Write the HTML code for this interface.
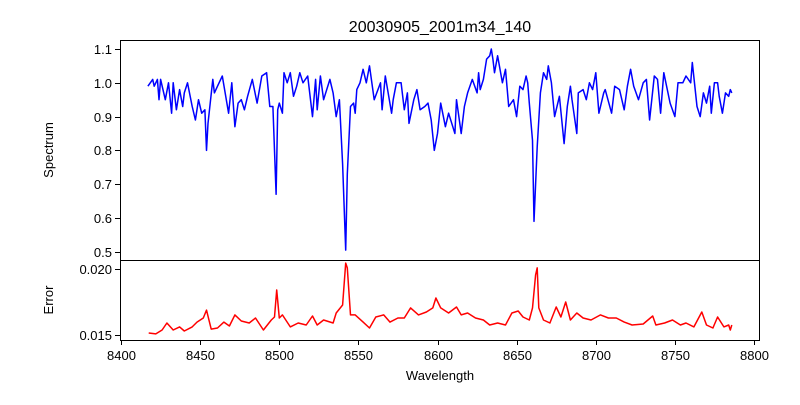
<!DOCTYPE html>
<html><head><meta charset="utf-8"><style>
body{margin:0;background:#fff;font-family:"Liberation Sans","DejaVu Sans",sans-serif}
svg text{font-family:"Liberation Sans","DejaVu Sans",sans-serif;fill:#000}
</style></head><body>
<svg id="chart" width="800" height="400" viewBox="0 0 800 400" xmlns="http://www.w3.org/2000/svg">
<rect width="800" height="400" fill="#fff"/>
<text x="440" y="32" font-size="16" text-anchor="middle">20030905_2001m34_140</text>
<text transform="translate(53,150) rotate(-90)" font-size="13" text-anchor="middle">Spectrum</text>
<text transform="translate(53,300) rotate(-90)" font-size="13" text-anchor="middle">Error</text>
<text x="440" y="380" font-size="13" text-anchor="middle">Wavelength</text>
<g id="marks"></g>
<rect x="120.5" y="40.5" width="639" height="220" fill="none" stroke="#000" stroke-width="1"/>
<rect x="120.5" y="260.5" width="639" height="80" fill="none" stroke="#000" stroke-width="1"/>
<g id="ticks"></g>
</svg>
<script>
const specWave=[8417,8420,8421,8423,8424,8425,8428,8430,8432,8433,8435,8437,8439,8440,8442,8445,8447,8449,8451,8453,8454,8455,8458,8459,8461,8464,8468,8470,8472,8474,8476,8478,8480,8483,8486,8489,8492,8494,8496,8498,8499,8500,8502,8503,8505,8507,8509,8511,8513,8515,8518,8521,8523,8524,8526,8528,8532,8534,8536,8538,8540,8542,8543,8545,8547,8548,8549,8551,8553,8555,8557,8560,8564,8565,8567,8571,8572,8574,8577,8579,8581,8582,8585,8587,8589,8592,8594,8596,8598,8600,8602,8605,8607,8611,8612,8615,8617,8619,8622,8625,8626,8627,8629,8631,8633,8634,8635,8636,8638,8641,8643,8645,8648,8650,8652,8654,8656,8657,8658,8660,8661,8663,8665,8667,8669,8670,8672,8674,8677,8680,8682,8684,8685,8688,8689,8692,8694,8696,8698,8700,8702,8705,8706,8710,8712,8715,8718,8720,8722,8724,8727,8730,8732,8734,8737,8739,8741,8743,8747,8750,8752,8755,8757,8760,8761,8764,8766,8768,8770,8772,8773,8775,8777,8778,8780,8782,8784,8785,8786];
const specFlux=[0.99,1.01,0.99,1.01,0.95,1.01,0.95,1.0,0.91,1.0,0.92,0.98,0.93,0.97,1.0,0.93,0.89,0.95,0.91,0.92,0.80,0.88,1.01,0.97,0.99,1.02,0.91,1.0,0.87,0.94,0.95,0.92,0.96,1.01,0.94,1.02,1.03,0.93,0.93,0.67,0.92,0.94,0.91,1.03,1.0,1.03,0.96,0.99,1.03,1.0,1.02,0.90,1.01,0.92,1.02,0.95,1.01,0.97,0.90,0.95,0.76,0.505,0.73,0.93,0.94,0.91,0.98,1.0,1.04,1.0,1.05,0.95,1.0,0.92,1.02,0.91,0.95,1.0,1.0,0.92,0.97,0.88,0.95,0.98,0.92,0.93,0.94,0.89,0.80,0.85,0.94,0.87,0.91,0.85,0.95,0.85,0.93,0.97,1.01,0.97,1.03,0.98,1.01,1.07,1.08,1.10,1.07,1.03,1.08,1.0,1.04,0.93,0.95,0.90,0.99,0.98,1.02,1.0,0.94,0.83,0.59,0.81,0.97,1.03,1.01,1.05,1.0,0.90,0.96,0.82,0.93,0.99,0.95,0.85,0.97,0.98,0.95,1.0,0.98,1.03,0.91,0.97,0.98,0.91,0.99,0.98,0.92,0.99,1.04,0.99,0.95,1.0,1.01,0.89,1.02,1.01,0.91,1.03,0.94,0.90,1.0,1.0,1.02,1.0,1.06,0.93,0.90,0.97,0.94,0.99,0.91,1.0,1.0,0.96,0.91,0.97,0.96,0.98,0.97];
const errWave=[8417.5,8422,8426,8429,8433,8437,8440,8445,8448,8452,8454,8457,8461,8465,8468.5,8472,8476,8481,8485,8490,8495,8497,8498.4,8500,8502,8507,8512,8517,8521,8524,8528,8534,8536,8540,8542,8543,8545,8548,8553,8557,8561,8566,8570,8575,8579,8583,8588,8593,8597,8599,8602,8607,8612,8615,8619,8624,8629,8633,8638,8643,8647,8651,8654,8658,8660,8662,8663,8664,8667,8671,8675,8678,8681,8684,8688,8692,8697,8703,8708,8713,8718,8723,8730,8736,8738,8743.5,8748.5,8753.5,8757,8762,8767,8770,8774,8777,8781,8784,8785,8786];
const errVal=[0.01515,0.01508,0.01538,0.01591,0.01538,0.01561,0.0153,0.01561,0.01598,0.01629,0.01689,0.01545,0.01553,0.01598,0.01568,0.01652,0.01606,0.01591,0.01629,0.01538,0.01614,0.01636,0.01841,0.01629,0.01652,0.01561,0.01591,0.01576,0.01644,0.01576,0.01614,0.01591,0.01667,0.01727,0.02045,0.02008,0.01652,0.01652,0.01598,0.01553,0.01636,0.01652,0.01598,0.01629,0.01629,0.01705,0.01652,0.01674,0.01705,0.0178,0.01705,0.01667,0.01712,0.01652,0.01667,0.01629,0.01614,0.01576,0.01591,0.01576,0.01667,0.01682,0.01636,0.01614,0.01705,0.01955,0.02008,0.01705,0.01614,0.01591,0.01712,0.01636,0.0175,0.01614,0.01667,0.01629,0.01614,0.01652,0.01629,0.01629,0.01598,0.01576,0.01583,0.01644,0.01576,0.01591,0.01614,0.01576,0.01591,0.01561,0.01674,0.01576,0.01553,0.01636,0.01561,0.01576,0.01538,0.01576];
const xTicks=[8400,8450,8500,8550,8600,8650,8700,8750,8800];
const specTicks=[0.5,0.6,0.7,0.8,0.9,1.0,1.1];
const errTicks=[0.015,0.020];

const NS="http://www.w3.org/2000/svg";
const xS=w=>121+(w-8400)*1.5825;
const yS=v=>49+(1.1-v)*338;
const yE=v=>269+(0.020-v)*13200;
const marks=document.getElementById('marks');
const ticks=document.getElementById('ticks');

function poly(xs,ys,fy,color,name){
  const p=document.createElementNS(NS,'polyline');
  p.setAttribute('points',xs.map((w,i)=>xS(w).toFixed(1)+','+fy(ys[i]).toFixed(1)).join(' '));
  p.setAttribute('fill','none');p.setAttribute('stroke',color);p.setAttribute('stroke-width','1.5');p.setAttribute('stroke-linejoin','round');
  
  
  marks.appendChild(p);
}
poly(specWave,specFlux,yS,'#0000ff','spectrum-line');
poly(errWave,errVal,yE,'#ff0000','error-line');

function line(x1,y1,x2,y2,name){
  const l=document.createElementNS(NS,'line');
  l.setAttribute('x1',x1);l.setAttribute('y1',y1);l.setAttribute('x2',x2);l.setAttribute('y2',y2);
  l.setAttribute('stroke','#000');l.setAttribute('stroke-width','1');
  
  
  ticks.appendChild(l);
}
function label(x,y,s,anchor,name){
  const t=document.createElementNS(NS,'text');
  t.setAttribute('x',x);t.setAttribute('y',y);t.setAttribute('font-size','13');t.setAttribute('text-anchor',anchor);
  t.textContent=s;
  
  
  ticks.appendChild(t);
}
xTicks.forEach(w=>{const x=Math.round(xS(w))+0.5;line(x,340,x,345,'x-tick');label(x,360,String(w),'middle','x-tick-label');});
specTicks.forEach(v=>{const y=Math.round(yS(v))+0.5;line(115,y,120,y,'spectrum-y-tick');label(112,y+4.5,v.toFixed(1),'end','spectrum-y-tick-label');});
errTicks.forEach(v=>{const y=Math.round(yE(v))+0.5;line(115,y,120,y,'error-y-tick');label(112,y+4.5,v.toFixed(3),'end','error-y-tick-label');});
</script>
</body></html>
